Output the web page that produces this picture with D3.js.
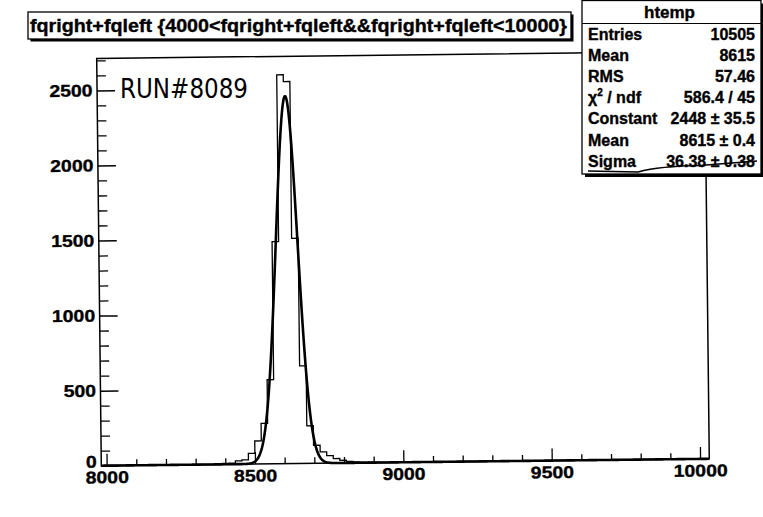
<!DOCTYPE html>
<html>
<head>
<meta charset="utf-8">
<script src="https://cdn.jsdelivr.net/npm/d3@7/dist/d3.min.js"></script>
<style>
  html, body { margin: 0; padding: 0; background: #fff; }
  svg { display: block; }
  text { font-family: "Liberation Sans", Arial, Helvetica, sans-serif; font-weight: bold; fill: #000; }
  .heavy { stroke: #000; stroke-width: 0.35px; }
</style>
</head>
<body>
<svg id="chart" width="763" height="517"></svg>
<script>
// Histogram of fqright+fqleft (run 8089), 22-unit bins
const binStart = 8390;
const binWidth = 22;
const counts = [6, 8, 22, 28, 71, 153, 270, 560, 1480, 2590, 2545, 1500, 650, 250, 120, 75, 50, 30, 18, 10, 6, 4, 3, 2];

// Axis range and ticks
const xDomain = [7982, 10031];
const yDomain = [0, 2713];
const xMajorTicks = [8000, 8500, 9000, 9500, 10000];
const yMajorTicks = [0, 500, 1000, 1500, 2000, 2500];

// Gaussian fit parameters
const fitConstant = 2448;
const fitMean = 8615;
const fitSigma = 36.38;

// Statistics box rows
const statLabels = ["Entries", "Mean", "RMS", "chi2ndf", "Constant", "Mean", "Sigma"];
const statValues = ["10505", "8615", "57.46", "586.4 / 45", "2448 \u00b1 35.5", "8615 \u00b1 0.4", "36.38 \u00b1 0.38"];

const titleText = "fqright+fqleft {4000<fqright+fqleft&&fqright+fqleft<10000}";
const histName = "htemp";
const runNote = "RUN#8089";

const svg = d3.select("#chart");
svg.append("rect").attr("width", 763).attr("height", 517).attr("fill", "#fff");

const x = d3.scaleLinear().domain(xDomain).range([99, 707]);
const y = d3.scaleLinear().domain(yDomain).range([462.3, 55]);

// plot area, slightly tilted like the printed page
const plot = svg.append("g").attr("transform", "rotate(-0.65 400 260)");

// frame
plot.append("rect")
  .attr("x", x(xDomain[0])).attr("y", y(yDomain[1]))
  .attr("width", x(xDomain[1]) - x(xDomain[0]))
  .attr("height", y(0) - y(yDomain[1]))
  .attr("fill", "none").attr("stroke", "#000").attr("stroke-width", 1.5);

// y axis: major + minor ticks pointing into the frame
const yMinor = d3.range(0, 2701, 100).filter(v => v % 500 !== 0);
const yAxis = d3.axisLeft(y).tickValues(yMajorTicks).tickSizeInner(-18).tickSizeOuter(0).tickPadding(4.5)
  .tickFormat(d3.format("d"));
const gy = plot.append("g").attr("transform", `translate(${x(xDomain[0])},0)`).call(yAxis);
gy.select(".domain").remove();
gy.selectAll(".tick line").attr("stroke", "#000").attr("stroke-width", 1.5);
gy.selectAll(".tick text")
  .attr("class", "heavy")
  .attr("font-size", 17)
  .attr("textLength", d => String(d).length * 10.8)
  .attr("lengthAdjust", "spacingAndGlyphs")
  .attr("transform", d => d === 0 ? "translate(0,-4)" : null);
const gyMinor = plot.append("g").attr("transform", `translate(${x(xDomain[0])},0)`)
  .call(d3.axisLeft(y).tickValues(yMinor).tickSizeInner(-9).tickSizeOuter(0).tickFormat(""));
gyMinor.select(".domain").remove();
gyMinor.selectAll(".tick line").attr("stroke", "#000").attr("stroke-width", 1.3);

// x axis
const xMinor = d3.range(8100, 10000, 100).filter(v => v % 500 !== 0);
const xAxis = d3.axisBottom(x).tickValues(xMajorTicks).tickSizeInner(-12).tickSizeOuter(0).tickPadding(5.5)
  .tickFormat(d3.format("d"));
const gx = plot.append("g").attr("transform", `translate(0,${y(0)})`).call(xAxis);
gx.select(".domain").remove();
gx.selectAll(".tick line").attr("stroke", "#000").attr("stroke-width", 1.3);
gx.selectAll(".tick text")
  .attr("class", "heavy")
  .attr("font-size", 17)
  .attr("textLength", d => String(d).length * 10.8)
  .attr("lengthAdjust", "spacingAndGlyphs");
const gxMinor = plot.append("g").attr("transform", `translate(0,${y(0)})`)
  .call(d3.axisBottom(x).tickValues(xMinor).tickSizeInner(-6).tickSizeOuter(0).tickFormat(""));
gxMinor.select(".domain").remove();
gxMinor.selectAll(".tick line").attr("stroke", "#000").attr("stroke-width", 1.3);

// histogram outline
const histPts = [[xDomain[0], 0], [binStart, 0]];
counts.forEach((c, i) => {
  const lo = binStart + i * binWidth;
  histPts.push([lo, c], [lo + binWidth, c]);
});
histPts.push([binStart + counts.length * binWidth, 0], [xDomain[1], 0]);
plot.append("path")
  .attr("d", d3.line().x(d => x(d[0])).y(d => y(d[1]))(histPts))
  .attr("fill", "none").attr("stroke", "#000").attr("stroke-width", 1.3);

// Gaussian fit curve
const fitXs = d3.range(xDomain[0], xDomain[1] + 0.001, 2);
const gauss = v => fitConstant * Math.exp(-0.5 * Math.pow((v - fitMean) / fitSigma, 2));
plot.append("path")
  .attr("d", d3.line().x(v => x(v)).y(v => y(gauss(v)))(fitXs))
  .attr("fill", "none").attr("stroke", "#000").attr("stroke-width", 2.6)
  .attr("stroke-linejoin", "round");

// handwritten run note
svg.append("text")
  .attr("x", 120).attr("y", 98)
  .attr("font-family", "'DejaVu Sans', sans-serif")
  .style("font-family", "'DejaVu Sans', sans-serif")
  .style("font-weight", "normal")
  .attr("font-size", 26)
  .attr("textLength", 128).attr("lengthAdjust", "spacingAndGlyphs")
  .text(runNote);

// title box with shadow
svg.append("rect").attr("x", 30.5).attr("y", 14.5).attr("width", 543).attr("height", 27).attr("fill", "#000");
svg.append("rect").attr("x", 28).attr("y", 12).attr("width", 543).attr("height", 27)
  .attr("fill", "#fff").attr("stroke", "#000").attr("stroke-width", 1.3);
svg.append("text").attr("x", 30).attr("y", 32)
  .attr("class", "heavy")
  .attr("font-size", 18)
  .attr("textLength", 537).attr("lengthAdjust", "spacingAndGlyphs")
  .text(titleText);

// statistics box with shadow
const sb = { x: 582, y: 0.5, w: 179, h: 173.5 };
svg.append("rect").attr("x", sb.x + 3).attr("y", sb.y + 3).attr("width", sb.w).attr("height", sb.h).attr("fill", "#000");
svg.append("rect").attr("x", sb.x).attr("y", sb.y).attr("width", sb.w).attr("height", sb.h)
  .attr("fill", "#fff").attr("stroke", "#000").attr("stroke-width", 1.3);
svg.append("line").attr("x1", sb.x).attr("x2", sb.x + sb.w).attr("y1", 23.5).attr("y2", 23.5)
  .attr("stroke", "#000").attr("stroke-width", 1.2);
svg.append("text").attr("x", 669.5).attr("y", 18).attr("text-anchor", "middle")
  .attr("class", "heavy")
  .attr("font-size", 17).text(histName);

const rowBase = [39.5, 60.5, 81.5, 102.5, 124, 145.5, 166.5];
statLabels.forEach((lab, i) => {
  const t = svg.append("text").attr("x", 588).attr("y", rowBase[i]).attr("font-size", 16).attr("class", "heavy");
  if (lab === "chi2ndf") {
    t.append("tspan").text("\u03c7");
    t.append("tspan").attr("font-size", 10).attr("dy", -7).text("2");
    t.append("tspan").attr("dy", 7).text(" / ndf");
  } else {
    t.text(lab);
  }
  svg.append("text").attr("x", 755).attr("y", rowBase[i]).attr("text-anchor", "end")
    .attr("class", "heavy")
    .attr("font-size", 16).text(statValues[i]);
});

// pen stroke under the Sigma row
svg.append("path")
  .attr("d", "M588,171 L638,172 Q660,166 700,165.5 L757,161")
  .attr("fill", "none").attr("stroke", "#000").attr("stroke-width", 1.6);
</script>
</body>
</html>
